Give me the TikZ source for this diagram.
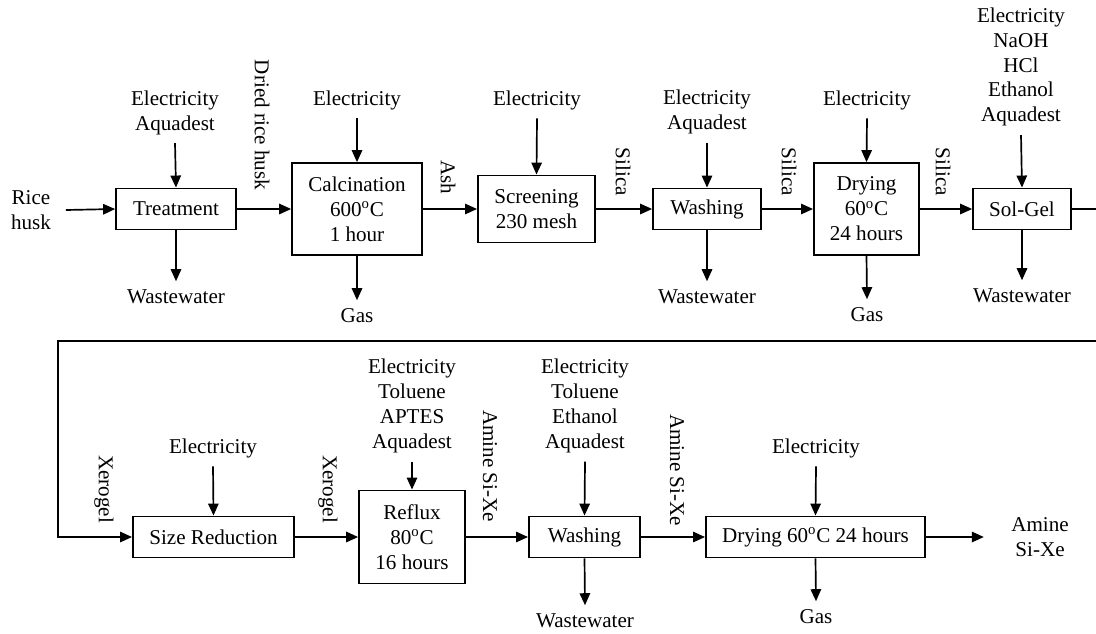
\documentclass[tikz,border=0pt]{standalone}
\usepackage{fontspec}
\setmainfont{Liberation Serif}
\usepackage{tikz}
\usetikzlibrary{arrows.meta,positioning,calc}

\begin{document}
\begin{tikzpicture}[x=0.025cm,y=-0.025cm,
      font=\fontsize{15}{17.7}\selectfont,
      unit/.style={draw,line width=1.2pt,inner sep=0pt,align=center},
      feed/.style={align=center,inner sep=6pt},
      side/.style={rotate=-90,inner sep=0pt},
      flow/.style={-{Triangle[length=0.3cm,width=0.26cm]},line width=1.2pt}]
    \useasboundingbox (0,0) rectangle (1096,633);
    % first line of units
    \node[unit,minimum width=3cm,minimum height=1.03cm] (treat) at (176,209) {Treatment};
    \node[unit,minimum width=3.25cm,minimum height=2.3cm] (calc) at (357,209)
      {Calcination\\600\textsuperscript{o}C\\1 hour};
    \node[unit,minimum width=2.93cm,minimum height=1.68cm] (screen) at (536.5,209)
      {Screening\\230 mesh};
    \node[unit,minimum width=2.7cm,minimum height=1.03cm] (wash) at (707,209) {Washing};
    \node[unit,minimum width=2.63cm,minimum height=2.3cm] (dry) at (866.5,209)
      {Drying\\60\textsuperscript{o}C\\24 hours};
    \node[unit,minimum width=2.45cm,minimum height=1.03cm] (solgel) at (1022,209) {Sol-Gel};
    % second line of units
    \node[unit,minimum width=4.03cm,minimum height=1.03cm] (sizered) at (213.5,537) {Size Reduction};
    \node[unit,minimum width=2.65cm,minimum height=2.33cm] (reflux) at (412,537)
      {Reflux\\80\textsuperscript{o}C\\16 hours};
    \node[unit,minimum width=2.78cm,minimum height=1.03cm] (washb) at (584.5,537) {Washing};
    \node[unit,minimum width=5.48cm,minimum height=1.03cm] (dryb) at (815.5,537)
      {Drying 60\textsuperscript{o}C 24 hours};
    % raw material and product
    \node[align=center] (husk) at (31,210) {Rice\\husk};
    \node[align=center] (product) at (1040,537) {Amine\\Si-Xe};
    % inputs
    \node[feed] (inA) at (175,112.5) {Electricity\\Aquadest};
    \node[feed] (inB) at (357,100) {Electricity};
    \node[feed] (inC) at (537,100) {Electricity};
    \node[feed] (inD) at (707,112) {Electricity\\Aquadest};
    \node[feed] (inE) at (867,100) {Electricity};
    \node[feed] (inF) at (1021,67) {Electricity\\NaOH\\HCl\\Ethanol\\Aquadest};
    \node[feed] (inG) at (213,448) {Electricity};
    \node[feed] (inH) at (412,406) {Electricity\\Toluene\\APTES\\Aquadest};
    \node[feed] (inI) at (585,406) {Electricity\\Toluene\\Ethanol\\Aquadest};
    \node[feed] (inJ) at (816,448) {Electricity};
    % outputs
    \node[feed] (outA) at (176,297) {Wastewater};
    \node[feed] (outB) at (357,316) {Gas};
    \node[feed] (outD) at (707,297) {Wastewater};
    \node[feed] (outE) at (867,315) {Gas};
    \node[feed] (outF) at (1022,296) {Wastewater};
    \node[feed] (outI) at (585,621) {Wastewater};
    \node[feed] (outJ) at (816,617) {Gas};
    % stream names
    \node[side] (sDried) at (262,125) {Dried rice husk};
    \node[side] (sAsh) at (448,177) {Ash};
    \node[side] (sSilA) at (623,172) {Silica};
    \node[side] (sSilB) at (789,172) {Silica};
    \node[side] (sSilC) at (943,172) {Silica};
    \node[side] (sXerA) at (104,489) {Xerogel};
    \node[side] (sXerB) at (328,489) {Xerogel};
    \node[side] (sAmA) at (490,466) {Amine Si-Xe};
    \node[side] (sAmB) at (677,470) {Amine Si-Xe};
    \coordinate (turn) at (1100,341);
    \coordinate (back) at (58,341);
    % main flow
    \draw[flow] (husk.east) ++(10,0) -- (treat.west);
    \draw[flow] (treat) -- (calc);
    \draw[flow] (calc) -- (screen);
    \draw[flow] (screen) -- (wash);
    \draw[flow] (wash) -- (dry);
    \draw[flow] (dry) -- (solgel);
    \draw[flow] (solgel.east) -- (turn |- solgel.east) -- (turn) -- (back) |- (sizered.west);
    \draw[flow] (sizered) -- (reflux);
    \draw[flow] (reflux) -- (washb);
    \draw[flow] (washb) -- (dryb);
    \draw[flow,shorten >=16] (dryb.east) -- (product.west);
    % feeds and releases
    \foreach \i/\u in {inA/treat,inB/calc,inC/screen,inD/wash,inE/dry,inF/solgel,
                       inG/sizered,inH/reflux,inI/washb,inJ/dryb}
      \draw[flow] (\i.south) -- (\u.north);
    \foreach \u/\o in {treat/outA,calc/outB,wash/outD,dry/outE,solgel/outF,
                       washb/outI,dryb/outJ}
      \draw[flow] (\u.south) -- (\o.north);
  \end{tikzpicture}
\end{document}
